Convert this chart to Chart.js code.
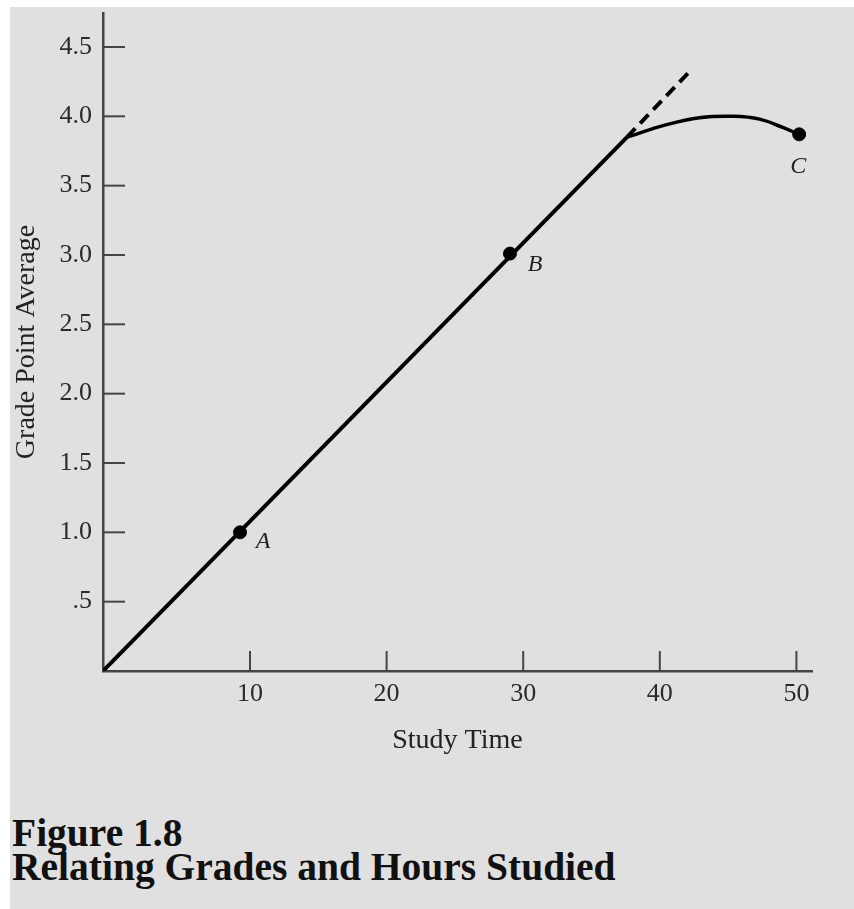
<!DOCTYPE html>
<html>
<head>
<meta charset="utf-8">
<script src="https://cdn.jsdelivr.net/npm/chart.js@4"></script>
<style>
body { margin: 0; background: #fff; width: 854px; height: 909px; position: relative; overflow: hidden; }
#panel { position: absolute; left: 10px; top: 7px; right: 0; bottom: 0; background: #e0e0e0; }
#wrap { position: absolute; left: 0; top: 0; width: 854px; height: 780px; }
#caption { position: absolute; left: 12px; top: 816px; font-family: 'Liberation Serif', serif; font-weight: bold; font-size: 39.5px; line-height: 34px; color: #111; }
</style>
</head>
<body>
<div id="panel"></div>
<div id="wrap"><canvas id="gpaChart"></canvas></div>
<div id="caption">Figure 1.8<br>Relating Grades and Hours Studied</div>
<script>
// straight part, dashed extension and the bent curve
const lineX = [-0.76, 37.6];
const lineY = [0, 3.85];
const dashX = [37.6, 42.06];
const dashY = [3.85, 4.31];
const curveX = [37.6, 40.5, 42.9, 45.4, 47.3, 49.0, 50.2];
const curveY = [3.85, 3.94, 3.99, 4.0, 3.98, 3.92, 3.87];

// labelled points
const pointNames = ['A', 'B', 'C'];
const pointX = [9.27, 29.03, 50.2];
const pointY = [1.0, 3.01, 3.87];

// ticks
const xTicks = [10, 20, 30, 40, 50];
const yTicks = [0.5, 1.0, 1.5, 2.0, 2.5, 3.0, 3.5, 4.0, 4.5];

const toXY = (xs, ys) => xs.map((v, i) => ({ x: v, y: ys[i] }));

const axisColor = '#454545';
const serif = "'Liberation Serif', 'Times New Roman', serif";

const innerTicks = {
    id: 'innerTicks',
    beforeDatasetsDraw(chart) {
        const { ctx, scales: { x, y } } = chart;
        ctx.save();
        ctx.strokeStyle = axisColor;
        ctx.lineWidth = 2;
        xTicks.forEach(v => {
            const px = x.getPixelForValue(v);
            ctx.beginPath();
            ctx.moveTo(px, y.bottom);
            ctx.lineTo(px, y.bottom - 20);
            ctx.stroke();
        });
        yTicks.forEach(v => {
            const py = y.getPixelForValue(v);
            ctx.beginPath();
            ctx.moveTo(x.left, py);
            ctx.lineTo(x.left + 22, py);
            ctx.stroke();
        });
        ctx.restore();
    },
    afterDatasetsDraw(chart) {
        const { ctx, scales: { x, y } } = chart;
        const offsets = [[23, 9], [25, 11], [-1, 32]]; // label offset from its dot
        ctx.save();
        ctx.fillStyle = '#222';
        ctx.font = 'italic 24px ' + serif;
        ctx.textAlign = 'center';
        ctx.textBaseline = 'middle';
        pointNames.forEach((name, i) => {
            ctx.fillText(name, x.getPixelForValue(pointX[i]) + offsets[i][0], y.getPixelForValue(pointY[i]) + offsets[i][1]);
        });
        ctx.restore();
    }
};

const ctx = document.getElementById('gpaChart').getContext('2d');
const gpaChart = new Chart(ctx, {
    type: 'scatter',
    data: {
        datasets: [
            {
                data: toXY(lineX, lineY),
                showLine: true,
                borderColor: '#000',
                borderWidth: 4,
                pointRadius: 0,
            },
            {
                data: toXY(dashX, dashY),
                showLine: true,
                borderColor: '#000',
                borderWidth: 4,
                borderDash: [12, 7],
                pointRadius: 0,
            },
            {
                data: toXY(curveX, curveY),
                showLine: true,
                borderColor: '#000',
                borderWidth: 3.5,
                tension: 0.4,
                pointRadius: 0,
            },
            {
                data: toXY(pointX, pointY),
                showLine: false,
                backgroundColor: '#000',
                borderColor: '#000',
                pointRadius: 6.5,
            },
        ],
    },
    options: {
        responsive: true,
        maintainAspectRatio: false,
        animation: false,
        layout: { padding: { left: 0, top: 13, right: 42, bottom: 0 } },
        plugins: { legend: { display: false }, tooltip: { enabled: false } },
        scales: {
            x: {
                type: 'linear',
                min: -0.76,
                max: 51.14,
                afterBuildTicks: s => { s.ticks = xTicks.map(v => ({ value: v })); },
                afterFit: s => { s.height = 109; s.paddingLeft = 0; s.paddingRight = 0; },
                grid: { display: false, drawTicks: false },
                border: { display: true, color: axisColor, width: 2.5 },
                ticks: { color: '#2a2a2a', padding: 8, font: { family: serif, size: 26 } },
                title: { display: true, text: 'Study Time', color: '#222', font: { family: serif, size: 28 }, padding: { top: 0, bottom: 23 } },
            },
            y: {
                min: 0,
                max: 4.745,
                afterBuildTicks: s => { s.ticks = yTicks.map(v => ({ value: v })); },
                afterFit: s => { s.width = 103; s.paddingTop = 0; s.paddingBottom = 0; },
                grid: { display: false, drawTicks: false },
                border: { display: true, color: axisColor, width: 2.5 },
                ticks: {
                    color: '#2a2a2a',
                    padding: 11,
                    font: { family: serif, size: 26 },
                    callback: v => v < 1 ? '.5' : v.toFixed(1),
                },
                title: { display: true, text: 'Grade Point Average', color: '#222', font: { family: serif, size: 28 }, padding: { top: 10, bottom: 0 } },
            },
        },
    },
    plugins: [innerTicks],
});
</script>
</body>
</html>
